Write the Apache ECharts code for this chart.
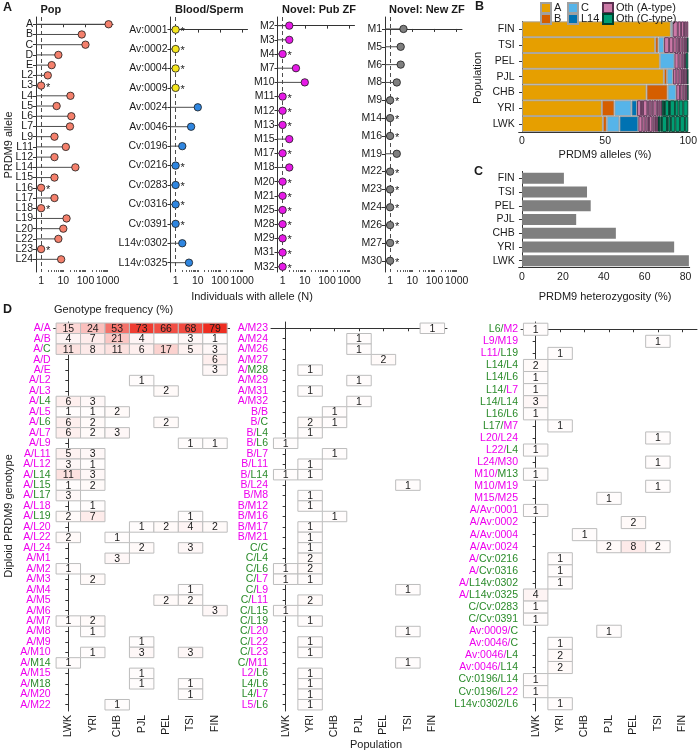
<!DOCTYPE html>
<html><head><meta charset="utf-8">
<script src="https://cdn.jsdelivr.net/npm/echarts@6/dist/echarts.min.js"></script>
<style>html,body{margin:0;padding:0;background:#fff}#c{width:700px;height:752px}</style>
</head><body><div id="c"></div>
<script>
const _ = null;
// ---------- Panel A data ----------
const popAlleles = ['A','B','C','D','E','L2','L3','L4','L5','L6','L7','L9','L11','L12','L14','L15','L16','L17','L18','L19','L20','L22','L23','L24'];
const popN = [1100,68,100,6,3,2,1,21,5,23,20,4,13,4,35,4,1,4,1,14,10,6,1,8];
const bloodAlleles = ['Av:0001','Av:0002','Av:0004','Av:0009','Av:0024','Av:0046','Cv:0196','Cv:0216','Cv:0283','Cv:0316','Cv:0391','L14v:0302','L14v:0325'];
const bloodN = [1,1,1,1,10,5,2,1,1,1,1,2,4];
const bloodGroup = ['y','y','y','y','b','b','b','b','b','b','b','b','b'];
const pubAlleles = ['M2','M3','M4','M7','M10','M11','M12','M13','M15','M17','M18','M20','M21','M25','M28','M29','M31','M32'];
const pubN = [2,2,1,4,10,1,1,1,2,1,2,1,1,1,1,1,1,1];
const newAlleles = ['M1','M5','M6','M8','M9','M14','M16','M19','M22','M23','M24','M26','M27','M30'];
const newN = [4,3,3,2,1,1,1,2,1,1,1,1,1,1];
const logMajor = [1,10,100,1000];
const logAll = [1,2,3,4,5,6,7,8,9,10,20,30,40,50,60,70,80,90,100,200,300,400,500,600,700,800,900,1000];

// ---------- Panel B data ----------
const bPops = ['FIN','TSI','PEL','PJL','CHB','YRI','LWK'];
const bA   = [89.5,80.1,82.9,85.3,74.9,48.0,48.6];
const bB   = [_,2.0,_,2.0,12.7,7.6,2.4];
const bC   = [1.2,3.4,8.8,3.6,5.2,10.2,7.6];
const bL14 = [_,_,_,_,_,3.4,11.4];
const bOthA = [
  [3.0,2.0,1.8,1.3,1.2],
  [3.0,2.5,2.0,1.5,1.5,1.2,1.0,0.8,0.5],
  [2.5,1.8,1.2,0.8,0.5],
  [2.0,1.8,1.5,1.2,1.0,0.6,0.5],
  [2.2,1.6,1.2,1.0,0.8],
  [2.4,1.2,2.6,0.8,1.6,1.2,2.0,1.0,1.2,1.0],
  [2.4,1.8,1.4,0.8,2.0,1.2,1.0,1.2]
];
const bOthC = [
  [],
  [0.5],
  [1.5],
  [0.5],
  [0.4],
  [1.2,0.6,2.4,0.6,3.0,2.2,2.8,3.0],
  [0.6,1.0,0.8,3.0,0.8,1.6,2.6,2.8,3.0,2.0]
];
// ---------- Panel C data ----------
const hetPct = [20.5,31.8,33.6,26.5,45.9,74.4,81.6];

// ---------- Panel D data ----------
const dPops = ['LWK','YRI','CHB','PJL','PEL','TSI','FIN'];
const genoLeft = ['A/A','A/B','A/C','A/D','A/E','A/L2','A/L3','A/L4','A/L5','A/L6','A/L7','A/L9','A/L11','A/L12','A/L14','A/L15','A/L17','A/L18','A/L19','A/L20','A/L22','A/L24','A/M1','A/M2','A/M3','A/M4','A/M5','A/M6','A/M7','A/M8','A/M9','A/M10','A/M14','A/M15','A/M18','A/M20','A/M22'];
const freqLeft = [
  [15,24,53,73,66,68,79],[4,7,21,4,_,3,1],[11,8,11,6,17,5,3],[_,_,_,_,_,_,6],[_,_,_,_,_,_,3],
  [_,_,_,1,_,_,_],[_,_,_,_,2,_,_],[6,3,_,_,_,_,_],[1,1,2,_,_,_,_],[6,2,_,_,2,_,_],
  [6,2,3,_,_,_,_],[_,_,_,_,_,1,1],[5,3,_,_,_,_,_],[3,1,_,_,_,_,_],[11,3,_,_,_,_,_],
  [1,2,_,_,_,_,_],[3,_,_,_,_,_,_],[_,1,_,_,_,_,_],[2,7,_,_,_,1,_],[_,_,_,1,2,4,2],
  [2,_,1,_,_,_,_],[_,_,_,2,_,3,_],[_,_,3,_,_,_,_],[1,_,_,_,_,_,_],[_,2,_,_,_,_,_],
  [_,_,_,_,_,1,_],[_,_,_,_,2,2,_],[_,_,_,_,_,_,3],[1,2,_,_,_,_,_],[_,1,_,_,_,_,_],
  [_,_,_,1,_,_,_],[_,1,_,3,_,3,_],[1,_,_,_,_,_,_],[_,_,_,1,_,_,_],[_,_,_,1,_,1,_],
  [_,_,_,_,_,1,_],[_,_,1,_,_,_,_]
];
const genoMid = ['A/M23','A/M24','A/M26','A/M27','A/M28','A/M29','A/M31','A/M32','B/B','B/C','B/L4','B/L6','B/L7','B/L11','B/L14','B/L24','B/M8','B/M12','B/M16','B/M17','B/M21','C/C','C/L4','C/L6','C/L7','C/L9','C/L11','C/L15','C/L19','C/L20','C/L22','C/L23','C/M11','L2/L6','L4/L6','L4/L7','L5/L6'];
const freqMid = [
  [_,_,_,_,_,_,1],[_,_,_,1,_,_,_],[_,_,_,1,_,_,_],[_,_,_,_,2,_,_],[_,1,_,_,_,_,_],
  [_,_,_,1,_,_,_],[_,1,_,_,_,_,_],[_,_,_,1,_,_,_],[_,_,1,_,_,_,_],[_,2,1,_,_,_,_],
  [_,1,_,_,_,_,_],[1,_,_,_,_,_,_],[_,_,1,_,_,_,_],[_,1,_,_,_,_,_],[1,1,_,_,_,_,_],
  [_,_,_,_,_,1,_],[_,1,_,_,_,_,_],[_,1,_,_,_,_,_],[_,_,1,_,_,_,_],[_,1,_,_,_,_,_],
  [_,1,_,_,_,_,_],[_,1,_,_,_,_,_],[_,2,_,_,_,_,_],[1,2,_,_,_,_,_],[1,1,_,_,_,_,_],
  [_,_,_,_,_,1,_],[_,2,_,_,_,_,_],[1,_,_,_,_,_,_],[_,1,_,_,_,_,_],[_,_,_,_,_,1,_],
  [_,1,_,_,_,_,_],[_,1,_,_,_,_,_],[_,_,_,_,_,1,_],[_,1,_,_,_,_,_],[_,1,_,_,_,_,_],
  [_,1,_,_,_,_,_],[_,1,_,_,_,_,_]
];
const genoRight = ['L6/M2','L9/M19','L11/L19','L14/L4','L14/L6','L14/L7','L14/L14','L16/L6','L17/M7','L20/L24','L22/L4','L24/M30','M10/M13','M10/M19','M15/M25','A/Av:0001','A/Av:0002','A/Av:0004','A/Av:0024','A/Cv:0216','A/Cv:0316','A/L14v:0302','A/L14v:0325','C/Cv:0283','C/Cv:0391','Av:0009/C','Av:0046/C','Av:0046/L4','Av:0046/L14','Cv:0196/L14','Cv:0196/L22','L14v:0302/L6'];
const freqRight = [
  [1,_,_,_,_,_,_],[_,_,_,_,_,1,_],[_,1,_,_,_,_,_],[2,_,_,_,_,_,_],[1,_,_,_,_,_,_],
  [1,_,_,_,_,_,_],[3,_,_,_,_,_,_],[1,_,_,_,_,_,_],[_,1,_,_,_,_,_],[_,_,_,_,_,1,_],
  [1,_,_,_,_,_,_],[_,_,_,_,_,1,_],[1,_,_,_,_,_,_],[_,_,_,_,_,1,_],[_,_,_,1,_,_,_],
  [1,_,_,_,_,_,_],[_,_,_,_,2,_,_],[_,_,1,_,_,_,_],[_,_,_,2,8,2,_],[_,1,_,_,_,_,_],
  [_,1,_,_,_,_,_],[_,1,_,_,_,_,_],[4,_,_,_,_,_,_],[1,_,_,_,_,_,_],[1,_,_,_,_,_,_],
  [_,_,_,1,_,_,_],[_,1,_,_,_,_,_],[_,2,_,_,_,_,_],[_,2,_,_,_,_,_],[1,_,_,_,_,_,_],
  [1,_,_,_,_,_,_],[_,1,_,_,_,_,_]
];
const greenAlleles = ['C','L4','L6','L14','L15','L16','L17','L19','M13','M14','M18','M28','Cv:0196','Cv:0216','Cv:0283','Cv:0316','Cv:0391','L14v:0302','L14v:0325'];

// ---------- styles ----------
const FONT = '"Liberation Sans", Arial, Helvetica, sans-serif';
const AX = '#333333';
const TXT = '#1a1a1a';
const MAG = '#EE00EE';
const GRN = '#2A8B2A';
const FS = 10.5;

const grids = [], xAxes = [], yAxes = [], series = [], graphics = [];
const labelCommon = {showMinLabel: true, showMaxLabel: true, hideOverlap: false};

// y axis whose labels sit on integer rows; the two end values carry blank labels that are dropped
function rowAxis(gi, names, min, max, fmt, extraLabel) {
  const vals = [min].concat(names.map((n, i) => i), [max]);
  const isRow = v => Math.abs(v - Math.round(v)) < 1e-6 && v >= 0 && v < names.length;
  return {gridIndex: gi, type: 'value', inverse: true, min: min, max: max,
    axisLine: {show: true, lineStyle: {color: AX, width: 1}},
    axisTick: {show: true, customValues: vals, length: 3, lineStyle: {color: AX}},
    axisLabel: Object.assign({customValues: vals, showMinLabel: false, showMaxLabel: false, hideOverlap: false,
      formatter: v => isRow(v) ? fmt(names[Math.round(v)]) : '',
      fontSize: FS, color: TXT, margin: 3, fontFamily: FONT}, extraLabel || {}),
    splitLine: {show: false}};
}

// ---------- Panel A ----------
const LOGMIN = Math.pow(10,-0.23), LOGMAX = Math.pow(10,3.24);
function addLollipop(names, values, colors, left, ymin, ymax) {
  const gi = grids.length;
  grids.push({left: left, top: 17, width: 77, height: 255});
  const xi = xAxes.length;
  xAxes.push({gridIndex: gi, type: 'log', logBase: 10, min: LOGMIN, max: LOGMAX, position: 'bottom',
    axisLine: {show: true, lineStyle: {color: AX, width: 1}},
    axisTick: {show: true, customValues: logMajor, length: 3, lineStyle: {color: AX}},
    axisLabel: Object.assign({customValues: logMajor, formatter: v => String(Math.round(v)), fontSize: FS, color: TXT, margin: 4, fontFamily: FONT}, labelCommon),
    splitLine: {show: false}});
  xAxes.push({gridIndex: gi, type: 'log', logBase: 10, min: LOGMIN, max: LOGMAX, position: 'bottom',
    axisLine: {show: false},
    axisTick: {show: true, inside: true, customValues: logAll, length: 2, lineStyle: {color: AX, width: 0.8}},
    axisLabel: {show: false}, splitLine: {show: false}});
  const yi = yAxes.length;
  yAxes.push(rowAxis(gi, names, ymin, ymax, s => s));
  series.push({
    type: 'custom', xAxisIndex: xi, yAxisIndex: yi, encode: {x: 0, y: 1},
    data: values.map((v, i) => [v, i]),
    renderItem: function (params, api) {
      const v = api.value(0), i = api.value(1);
      const p = api.coord([v, i]);
      const x0 = params.coordSys.x;
      const ch = [
        {type: 'line', shape: {x1: x0, y1: p[1], x2: p[0], y2: p[1]}, style: {stroke: '#4d4d4d', lineWidth: 1}},
        {type: 'circle', shape: {cx: p[0], cy: p[1], r: 3.7}, style: {fill: colors[i], stroke: '#1a1a1a', lineWidth: 0.8}}
      ];
      if (v === 1) ch.push({type: 'text', style: {text: '*', x: p[0] + 5, y: p[1] + 2, fontSize: 11, fontFamily: FONT, fill: TXT, verticalAlign: 'middle'}});
      return {type: 'group', children: ch};
    },
    markLine: {silent: true, symbol: 'none', label: {show: false},
      lineStyle: {type: [4, 3], color: '#4d4d4d', width: 1}, data: [{xAxis: 1}]},
    z: 5
  });
}
addLollipop(popAlleles, popN, popAlleles.map(() => '#F4806C'), 36, -0.71, 24.24);
addLollipop(bloodAlleles, bloodN, bloodGroup.map(g => g === 'y' ? '#F5E61E' : '#2F86E0'), 170.5, -0.65, 12.48);
addLollipop(pubAlleles, pubN, pubAlleles.map(() => '#E61AE6'), 277.5, -0.61, 17.37);
addLollipop(newAlleles, newN, newAlleles.map(() => '#7F7F7F'), 385, -0.67, 13.63);

// ---------- Panel B ----------
{
  const gi = grids.length;
  grids.push({left: 518.7, top: 21.4, width: 172.3, height: 110.5});
  const xi = xAxes.length, yi = yAxes.length;
  xAxes.push({gridIndex: gi, type: 'value', min: -2, max: 101,
    axisLine: {show: true, lineStyle: {color: AX}}, axisTick: {customValues: [0,50,100], length: 3, lineStyle: {color: AX}},
    axisLabel: Object.assign({customValues: [0,50,100], fontSize: FS, color: TXT, margin: 4, fontFamily: FONT}, labelCommon), splitLine: {show: false}});
  yAxes.push({gridIndex: gi, type: 'category', inverse: true, data: bPops,
    axisLine: {show: true, lineStyle: {color: AX}}, axisTick: {show: true, alignWithLabel: true, length: 3, lineStyle: {color: AX}},
    axisLabel: {interval: 0, fontSize: FS, color: TXT, margin: 4, fontFamily: FONT}});
  const mk = (name, data, color, border) => ({type: 'bar', name: name, xAxisIndex: xi, yAxisIndex: yi, stack: 'b', data: data,
    barWidth: '100%', itemStyle: {color: color, borderColor: border, borderWidth: 0.9}, emphasis: {disabled: true}});
  series.push(mk('A', bA, '#E69F00', '#a0a0a0'));
  series.push(mk('B', bB, '#D55E00', '#a0a0a0'));
  series.push(mk('C', bC, '#56B4E9', '#a0a0a0'));
  series.push(mk('L14', bL14, '#0072B2', '#a0a0a0'));
  const nA = Math.max(...bOthA.map(a => a.length));
  for (let j = 0; j < nA; j++) series.push(mk('Oth (A-type)', bOthA.map(a => a[j] == null ? _ : a[j]), '#CC79A7', '#5a3050'));
  const nC = Math.max(...bOthC.map(a => a.length));
  for (let j = 0; j < nC; j++) series.push(mk('Oth (C-type)', bOthC.map(a => a[j] == null ? _ : a[j]), '#009E73', '#00402e'));
}

// ---------- Panel C ----------
{
  const gi = grids.length;
  grids.push({left: 518.7, top: 171.4, width: 171, height: 96.2});
  const xi = xAxes.length, yi = yAxes.length;
  xAxes.push({gridIndex: gi, type: 'value', min: -1.6, max: 82,
    axisLine: {show: true, lineStyle: {color: AX}}, axisTick: {customValues: [0,20,40,60,80], length: 3, lineStyle: {color: AX}},
    axisLabel: Object.assign({customValues: [0,20,40,60,80], fontSize: FS, color: TXT, margin: 4, fontFamily: FONT}, labelCommon), splitLine: {show: false}});
  yAxes.push({gridIndex: gi, type: 'category', inverse: true, data: bPops,
    axisLine: {show: true, lineStyle: {color: AX}}, axisTick: {show: true, alignWithLabel: true, length: 3, lineStyle: {color: AX}},
    axisLabel: {interval: 0, fontSize: FS, color: TXT, margin: 4, fontFamily: FONT}});
  series.push({type: 'bar', xAxisIndex: xi, yAxisIndex: yi, data: hetPct, barWidth: '80%', itemStyle: {color: '#7F7F7F'}, emphasis: {disabled: true}});
}

// ---------- Panel D ----------
function genoLabel(g) {
  const parts = g.split('/');
  return parts.map((p, k) => '{' + (greenAlleles.includes(p) ? 'g' : 'm') + '|' + (k === 0 ? p + '/' : p) + '}').join('');
}
const heatSeriesIdx = [];
function addHeat(rows, freq, left) {
  const gi = grids.length;
  grids.push({left: left, top: 322, width: 176, height: 389});
  const xi = xAxes.length, yi = yAxes.length;
  const cols = dPops.map((p, i) => i);
  xAxes.push({gridIndex: gi, type: 'value', min: -0.6, max: dPops.length - 0.4,
    axisLine: {show: true, lineStyle: {color: AX}}, axisTick: {customValues: cols, length: 3, lineStyle: {color: AX}},
    axisLabel: Object.assign({customValues: cols, formatter: v => dPops[Math.round(v)], rotate: 90, fontSize: FS, color: TXT, margin: 4, fontFamily: FONT}, labelCommon),
    splitLine: {show: false}});
  yAxes.push(rowAxis(gi, rows, -0.6, rows.length - 0.4, genoLabel,
    {rich: {m: {color: MAG, fontSize: FS, fontFamily: FONT}, g: {color: GRN, fontSize: FS, fontFamily: FONT}}}));
  const data = [];
  freq.forEach((row, ri) => row.forEach((v, ci) => { if (v != null) data.push([ci, ri, v]); }));
  heatSeriesIdx.push(series.length);
  series.push({type: 'custom', xAxisIndex: xi, yAxisIndex: yi, encode: {x: 0, y: 1}, data: data,
    renderItem: function (params, api) {
      const c = api.coord([api.value(0), api.value(1)]);
      const s = api.size([1, 1]);
      return {type: 'group', children: [
        {type: 'rect', shape: {x: c[0] - s[0] / 2, y: c[1] - s[1] / 2, width: s[0], height: s[1]},
          style: {fill: api.visual('color'), stroke: '#BDBDBD', lineWidth: 1}},
        {type: 'text', style: {text: String(api.value(2)), x: c[0], y: c[1] + 0.5, align: 'center', verticalAlign: 'middle',
          fontSize: FS, fontFamily: FONT, fill: TXT}}
      ]};
    }});
}
addHeat(genoLeft, freqLeft, 53.65);
addHeat(genoMid, freqMid, 271.0);
addHeat(genoRight, freqRight, 521.0);

// ---------- text ----------
function txt(t, x, y, o) { graphics.push({type: 'text', x: x, y: y, style: Object.assign({text: t, fontSize: FS, fontFamily: FONT, fill: TXT}, o || {})}); }
const bold = {fontWeight: 'bold', fontSize: 12.5};
txt('A', 3, 1, bold); txt('B', 475, 0, bold); txt('C', 474, 165, bold); txt('D', 3, 303, bold);
const ttl = {fontWeight: 'bold', fontSize: 11, verticalAlign: 'middle'};
txt('Pop', 40.5, 9.5, ttl); txt('Blood/Sperm', 175, 9.5, ttl); txt('Novel: Pub ZF', 282, 9.5, ttl); txt('Novel: New ZF', 389, 9.5, ttl);
txt('Individuals with allele (N)', 252, 297, {align: 'center', verticalAlign: 'middle', fontSize: 11});
txt('PRDM9 alleles (%)', 605, 155, {align: 'center', verticalAlign: 'middle', fontSize: 11});
txt('PRDM9 heterozygosity (%)', 605, 297, {align: 'center', verticalAlign: 'middle', fontSize: 11});
txt('Genotype frequency (%)', 54, 310, {verticalAlign: 'middle', fontSize: 11});
txt('Population', 376, 745, {align: 'center', verticalAlign: 'middle', fontSize: 11});
graphics.push({type: 'text', x: 9, y: 145, rotation: Math.PI / 2, style: {text: 'PRDM9 allele', fontSize: 11, fontFamily: FONT, fill: TXT, align: 'center', verticalAlign: 'middle'}});
graphics.push({type: 'text', x: 478, y: 78, rotation: Math.PI / 2, style: {text: 'Population', fontSize: 11, fontFamily: FONT, fill: TXT, align: 'center', verticalAlign: 'middle'}});
graphics.push({type: 'text', x: 9, y: 516, rotation: Math.PI / 2, style: {text: 'Diploid PRDM9 genotype', fontSize: 11, fontFamily: FONT, fill: TXT, align: 'center', verticalAlign: 'middle'}});

// ---------- legends for B ----------
const legendPos = [['A', 540, 2], ['B', 540, 13], ['C', 567, 2], ['L14', 567, 13], ['Oth (A-type)', 602, 2], ['Oth (C-type)', 602, 13]];
const legends = legendPos.map(l => ({data: [l[0]], left: l[1], top: l[2], itemWidth: 10, itemHeight: 10, itemGap: 0, padding: 0,
  icon: 'rect', selectedMode: false, textStyle: {fontSize: 11, fontFamily: FONT, color: TXT, padding: [0, 0, 0, -2]}}));

const chart = echarts.init(document.getElementById('c'), null, {renderer: 'canvas'});
chart.setOption({
  animation: false,
  backgroundColor: '#ffffff',
  grid: grids, xAxis: xAxes, yAxis: yAxes, series: series, legend: legends,
  visualMap: {type: 'continuous', show: false, seriesIndex: heatSeriesIdx, dimension: 2, min: 0, max: 80,
    inRange: {color: ['#ffffff', '#EE2A1E']}},
  graphic: graphics
});
</script></body></html>
